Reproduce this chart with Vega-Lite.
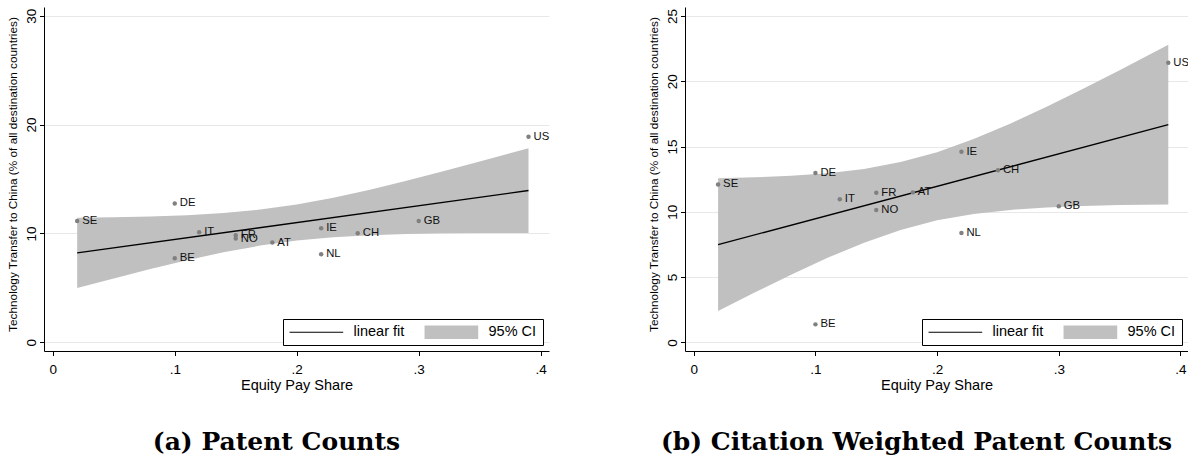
{
  "$schema": "https://vega.github.io/schema/vega-lite/v6.json",
  "background": "white",
  "padding": {"left": 6, "top": 7, "right": 0, "bottom": 0},
  "spacing": 97,
  "datasets": {
    "pts_a": [
      {"c": "SE", "x": 0.02, "y": 11.15},
      {"c": "DE", "x": 0.10, "y": 12.75},
      {"c": "IT", "x": 0.12, "y": 10.11},
      {"c": "FR", "x": 0.15, "y": 9.84},
      {"c": "NO", "x": 0.15, "y": 9.53},
      {"c": "AT", "x": 0.18, "y": 9.16},
      {"c": "BE", "x": 0.10, "y": 7.72},
      {"c": "IE", "x": 0.22, "y": 10.48},
      {"c": "NL", "x": 0.22, "y": 8.09},
      {"c": "CH", "x": 0.25, "y": 10.02},
      {"c": "GB", "x": 0.30, "y": 11.15},
      {"c": "US", "x": 0.39, "y": 18.88}
    ],
    "band_a": [
      {"x": 0.02, "lo": 4.98, "hi": 11.44},
      {"x": 0.05, "lo": 5.87, "hi": 11.48},
      {"x": 0.08, "lo": 6.73, "hi": 11.55},
      {"x": 0.11, "lo": 7.54, "hi": 11.67},
      {"x": 0.14, "lo": 8.27, "hi": 11.87},
      {"x": 0.17, "lo": 8.88, "hi": 12.19},
      {"x": 0.20, "lo": 9.34, "hi": 12.66},
      {"x": 0.23, "lo": 9.64, "hi": 13.28},
      {"x": 0.26, "lo": 9.83, "hi": 14.02},
      {"x": 0.29, "lo": 9.94, "hi": 14.84},
      {"x": 0.32, "lo": 10.01, "hi": 15.71},
      {"x": 0.35, "lo": 10.04, "hi": 16.61},
      {"x": 0.39, "lo": 10.05, "hi": 17.83}
    ],
    "fit_a": [
      {"x": 0.02, "y": 8.21},
      {"x": 0.39, "y": 13.94}
    ],
    "pts_b": [
      {"c": "SE", "x": 0.02, "y": 12.10},
      {"c": "DE", "x": 0.10, "y": 12.97},
      {"c": "IT", "x": 0.12, "y": 10.96},
      {"c": "FR", "x": 0.15, "y": 11.47},
      {"c": "NO", "x": 0.15, "y": 10.14},
      {"c": "AT", "x": 0.18, "y": 11.49},
      {"c": "BE", "x": 0.10, "y": 1.38},
      {"c": "IE", "x": 0.22, "y": 14.61},
      {"c": "NL", "x": 0.22, "y": 8.38},
      {"c": "CH", "x": 0.25, "y": 13.18},
      {"c": "GB", "x": 0.30, "y": 10.42},
      {"c": "US", "x": 0.39, "y": 21.42}
    ],
    "band_b": [
      {"x": 0.02, "lo": 2.40, "hi": 12.57},
      {"x": 0.05, "lo": 3.82, "hi": 12.64},
      {"x": 0.08, "lo": 5.19, "hi": 12.76},
      {"x": 0.11, "lo": 6.48, "hi": 12.96},
      {"x": 0.14, "lo": 7.64, "hi": 13.29},
      {"x": 0.17, "lo": 8.61, "hi": 13.81},
      {"x": 0.20, "lo": 9.35, "hi": 14.57},
      {"x": 0.23, "lo": 9.84, "hi": 15.57},
      {"x": 0.26, "lo": 10.15, "hi": 16.75},
      {"x": 0.29, "lo": 10.34, "hi": 18.05},
      {"x": 0.32, "lo": 10.45, "hi": 19.42},
      {"x": 0.35, "lo": 10.52, "hi": 20.85},
      {"x": 0.39, "lo": 10.56, "hi": 22.80}
    ],
    "fit_b": [
      {"x": 0.02, "y": 7.49},
      {"x": 0.39, "y": 16.68}
    ],
    "leg": [
      {"s": "linear fit"},
      {"s": "95% CI"}
    ]
  },
  "config": {
    "view": {"stroke": null},
    "font": "Liberation Sans",
    "axis": {
      "domainColor": "#000000",
      "tickColor": "#000000",
      "tickSize": 4.5,
      "labelColor": "#000000",
      "titleColor": "#000000",
      "labelFont": "Liberation Sans",
      "titleFont": "Liberation Sans",
      "titleFontWeight": "normal",
      "labelFontSize": 13.5,
      "gridColor": "#e8e8e8",
      "gridWidth": 1
    },
    "legend": {
      "labelFont": "Liberation Sans",
      "labelFontSize": 14.5,
      "labelColor": "#000000"
    }
  },
  "resolve": {
    "scale": {"color": "independent", "shape": "independent", "x": "independent", "y": "independent"},
    "legend": {"color": "independent", "shape": "independent"}
  },
  "hconcat": [
    {
      "width": 505,
      "height": 344,
      "title": {"text": "(a) Patent Counts", "orient": "bottom", "anchor": "middle", "font": "DejaVu Serif", "fontSize": 25, "fontWeight": "bold", "color": "#000000", "offset": 38, "dx": -20},
      "layer": [
        {
          "data": {"name": "band_a"},
          "mark": {"type": "area", "color": "#c0c0c0", "opacity": 1},
          "encoding": {
            "x": {"field": "x", "type": "quantitative",
              "scale": {"domain": [-0.0072, 0.4068], "nice": false, "zero": false},
              "axis": {"title": "Equity Pay Share", "titleFontSize": 14.5, "titlePadding": 3, "values": [0, 0.1, 0.2, 0.3, 0.4], "grid": false, "labelPadding": 6.5, "labelExpr": "datum.value == 0 ? '0' : replace(format(datum.value, '.1f'), '0.', '.')"}},
            "y": {"field": "lo", "type": "quantitative",
              "scale": {"domain": [-0.8, 30.8], "nice": false, "zero": false},
              "axis": {"title": "Technology Transfer to China (% of all destination countries)", "titleFontSize": 11.8, "titleAngle": 270, "titleX": -32, "titleY": 167, "titleAlign": "center", "titleBaseline": "middle", "values": [0, 10, 20, 30], "grid": true, "labelAngle": 270, "labelAlign": "center", "labelBaseline": "alphabetic", "labelPadding": 4}},
            "y2": {"field": "hi"}
          }
        },
        {
          "data": {"name": "fit_a"},
          "mark": {"type": "line", "color": "#000000", "strokeWidth": 1.4},
          "encoding": {
            "x": {"field": "x", "type": "quantitative"},
            "y": {"field": "y", "type": "quantitative"}
          }
        },
        {
          "data": {"name": "pts_a"},
          "mark": {"type": "point", "filled": true, "color": "#808080", "size": 20, "opacity": 1},
          "encoding": {
            "x": {"field": "x", "type": "quantitative"},
            "y": {"field": "y", "type": "quantitative"}
          }
        },
        {
          "data": {"name": "pts_a"},
          "mark": {"type": "text", "align": "left", "baseline": "middle", "dx": 5, "fontSize": 11.3, "color": "#111111"},
          "encoding": {
            "x": {"field": "x", "type": "quantitative"},
            "y": {"field": "y", "type": "quantitative"},
            "text": {"field": "c"}
          }
        },
        {
          "data": {"name": "leg"},
          "mark": {"type": "point", "filled": true, "size": 0},
          "encoding": {
            "color": {"field": "s", "type": "nominal", "scale": {"domain": ["linear fit", "95% CI"], "range": ["#000000", "#c0c0c0"]},
              "legend": {"title": null, "orient": "bottom-right", "offset": 6, "direction": "horizontal", "columns": 2, "strokeColor": "#000000", "fillColor": "#ffffff", "padding": 6, "symbolSize": 180, "symbolOpacity": 1, "symbolStrokeWidth": 0, "labelOffset": 50, "columnPadding": 19, "gridAlign": "none"}},
            "shape": {"field": "s", "type": "nominal", "scale": {"domain": ["linear fit", "95% CI"], "range": ["M-1,-0.09H7V0.09H-1Z", "M-1,-1H7V1H-1Z"]},
              "legend": {"title": null, "orient": "bottom-right", "offset": 6, "direction": "horizontal", "columns": 2, "strokeColor": "#000000", "fillColor": "#ffffff", "padding": 6, "symbolSize": 180, "symbolOpacity": 1, "symbolStrokeWidth": 0, "labelOffset": 50, "columnPadding": 19, "gridAlign": "none"}}
          }
        }
      ]
    },
    {
      "width": 503,
      "height": 344,
      "title": {"text": "(b) Citation Weighted Patent Counts", "orient": "bottom", "anchor": "middle", "font": "DejaVu Serif", "fontSize": 25, "fontWeight": "bold", "color": "#000000", "offset": 38, "dx": -20},
      "layer": [
        {
          "data": {"name": "band_b"},
          "mark": {"type": "area", "color": "#c0c0c0", "opacity": 1},
          "encoding": {
            "x": {"field": "x", "type": "quantitative",
              "scale": {"domain": [-0.0072, 0.4062], "nice": false, "zero": false},
              "axis": {"title": "Equity Pay Share", "titleFontSize": 14.5, "titlePadding": 3, "values": [0, 0.1, 0.2, 0.3, 0.4], "grid": false, "labelPadding": 6.5, "labelExpr": "datum.value == 0 ? '0' : replace(format(datum.value, '.1f'), '0.', '.')"}},
            "y": {"field": "lo", "type": "quantitative",
              "scale": {"domain": [-0.66, 25.69], "nice": false, "zero": false},
              "axis": {"title": "Technology Transfer to China (% of all destination countries)", "titleFontSize": 11.8, "titleAngle": 270, "titleX": -32, "titleY": 167, "titleAlign": "center", "titleBaseline": "middle", "values": [0, 5, 10, 15, 20, 25], "grid": true, "labelAngle": 270, "labelAlign": "center", "labelBaseline": "alphabetic", "labelPadding": 4}},
            "y2": {"field": "hi"}
          }
        },
        {
          "data": {"name": "fit_b"},
          "mark": {"type": "line", "color": "#000000", "strokeWidth": 1.4},
          "encoding": {
            "x": {"field": "x", "type": "quantitative"},
            "y": {"field": "y", "type": "quantitative"}
          }
        },
        {
          "data": {"name": "pts_b"},
          "mark": {"type": "point", "filled": true, "color": "#808080", "size": 20, "opacity": 1},
          "encoding": {
            "x": {"field": "x", "type": "quantitative"},
            "y": {"field": "y", "type": "quantitative"}
          }
        },
        {
          "data": {"name": "pts_b"},
          "mark": {"type": "text", "align": "left", "baseline": "middle", "dx": 5, "fontSize": 11.3, "color": "#111111"},
          "encoding": {
            "x": {"field": "x", "type": "quantitative"},
            "y": {"field": "y", "type": "quantitative"},
            "text": {"field": "c"}
          }
        },
        {
          "data": {"name": "leg"},
          "mark": {"type": "point", "filled": true, "size": 0},
          "encoding": {
            "color": {"field": "s", "type": "nominal", "scale": {"domain": ["linear fit", "95% CI"], "range": ["#000000", "#c0c0c0"]},
              "legend": {"title": null, "orient": "bottom-right", "offset": 6, "direction": "horizontal", "columns": 2, "strokeColor": "#000000", "fillColor": "#ffffff", "padding": 6, "symbolSize": 180, "symbolOpacity": 1, "symbolStrokeWidth": 0, "labelOffset": 50, "columnPadding": 19, "gridAlign": "none"}},
            "shape": {"field": "s", "type": "nominal", "scale": {"domain": ["linear fit", "95% CI"], "range": ["M-1,-0.09H7V0.09H-1Z", "M-1,-1H7V1H-1Z"]},
              "legend": {"title": null, "orient": "bottom-right", "offset": 6, "direction": "horizontal", "columns": 2, "strokeColor": "#000000", "fillColor": "#ffffff", "padding": 6, "symbolSize": 180, "symbolOpacity": 1, "symbolStrokeWidth": 0, "labelOffset": 50, "columnPadding": 19, "gridAlign": "none"}}
          }
        }
      ]
    }
  ]
}
